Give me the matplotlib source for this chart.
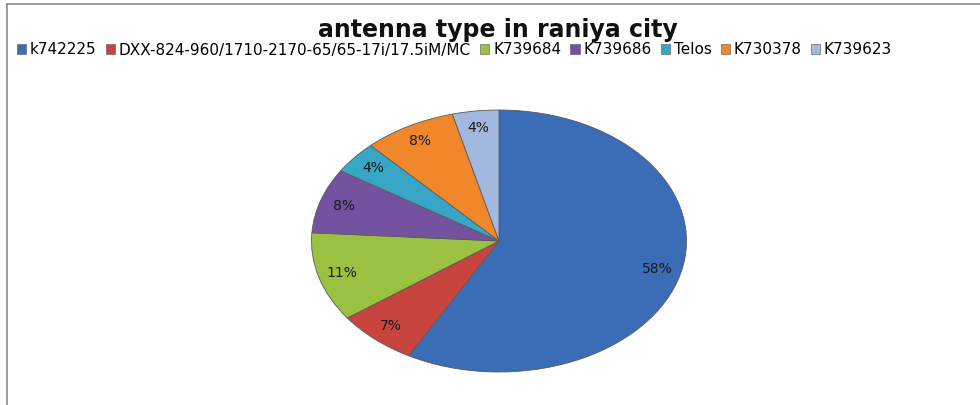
import matplotlib
matplotlib.use("Agg")
import matplotlib.pyplot as plt
from matplotlib.patches import Patch
from matplotlib.lines import Line2D
import numpy as np

title = "antenna type in raniya city"
categories = ["k742225", "DXX-824-960/1710-2170-65/65-17i/17.5iM/MC", "K739684",
              "K739686", "Telos", "K730378", "K739623"]
values = [58, 7, 11, 8, 4, 8, 4]
pct_labels = ["58%", "7%", "11%", "8%", "4%", "8%", "4%"]
colors = ["#3a6db5", "#c8443f", "#9bc143", "#7352a0", "#37a7c5", "#f0872b", "#a3b8de"]

W, H = 980, 405
fig = plt.figure(figsize=(W / 100, H / 100), dpi=100)
fig.patch.set_facecolor("white")

# chart border (top and left only visible)
fig.add_artist(Line2D([7 / W, 1.0], [1 - 4 / H, 1 - 4 / H], color="#8c8c8c", lw=1.2))
fig.add_artist(Line2D([7 / W, 7 / W], [0, 1 - 4 / H], color="#8c8c8c", lw=1.2))

cx, cy, rx, ry = 499, 241, 187.5, 131
ax = fig.add_axes([(cx - rx) / W, (H - cy - ry) / H, 2 * rx / W, 2 * ry / H])
wedges, _ = ax.pie(values, colors=colors, startangle=90, counterclock=False,
                   radius=1.0, wedgeprops=dict(edgecolor="#5a5a5a", linewidth=0.6))
ax.set_aspect("auto")
ax.set_xlim(-1, 1)
ax.set_ylim(-1, 1)
ax.axis("off")

total = sum(values)
ang = 90.0
for v, lab in zip(values, pct_labels):
    span = v / total * 360
    mid = np.deg2rad(ang - span / 2)
    ang -= span
    r = 0.87
    ax.text(r * np.cos(mid), r * np.sin(mid), lab, ha="center", va="center",
            fontsize=10, color="#1a1a1a", family="DejaVu Sans")

fig.text(498 / W, 1 - 30 / H, title, ha="center", va="center",
         fontsize=17, fontweight="bold", color="#111111", family="DejaVu Sans")

handles = [Patch(facecolor=c, edgecolor="#555555", linewidth=0.4) for c in colors]
fig.legend(handles, categories, loc="center left", bbox_to_anchor=(17 / W, 1 - 50 / H),
           ncol=7, frameon=False, fontsize=11, handlelength=0.6, handleheight=0.6,
           handletextpad=0.25, columnspacing=0.6, borderaxespad=0, borderpad=0)

fig.savefig("out.png", dpi=100)
